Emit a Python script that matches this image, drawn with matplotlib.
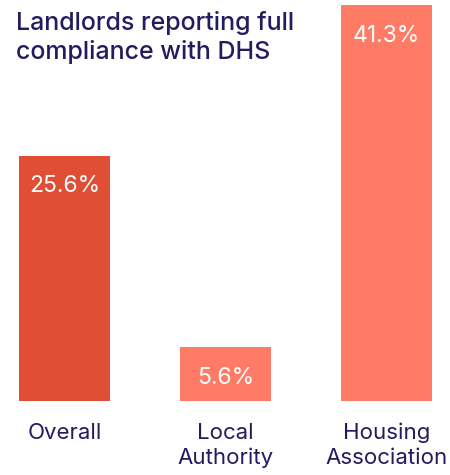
import matplotlib
matplotlib.use("Agg")
import matplotlib.pyplot as plt

categories = ["Overall", "Local\nAuthority", "Housing\nAssociation"]
values = [25.6, 5.6, 41.3]
value_labels = ["25.6%", "5.6%", "41.3%"]
colors = ["#e04e35", "#ff7b66", "#ff7b66"]
title = "Landlords reporting full\ncompliance with DHS"

plt.rcParams['font.family'] = ['Inter', 'DejaVu Sans']
fig = plt.figure(figsize=(4.5, 4.75), dpi=100)
ax = fig.add_axes([0, 0.1564, 1, 0.8436])
x = list(range(len(categories)))
bars = ax.bar(x, values, width=0.56, color=colors)
ax.set_xlim(-0.4006, 2.394)
ax.set_ylim(0, 41.87)
for b, lab in zip(bars, value_labels):
    ax.annotate(lab, (b.get_x() + b.get_width() / 2, b.get_height()),
                xytext=(0, -22), textcoords="offset points",
                ha="center", va="center", color="white", fontsize=16.5,
                fontweight="normal")
ax.set_xticks(x)
ax.set_xticklabels(categories, fontsize=16, color="#231c5e", linespacing=1.3)
ax.tick_params(axis="x", length=0, pad=16)
ax.set_yticks([])
for s in ax.spines.values():
    s.set_visible(False)
fig.text(16 / 450, 1 - 11 / 475, title, fontsize=18, color="#231c5e",
         ha="left", va="top", linespacing=1.25, fontweight="medium")
fig.savefig("out.png", dpi=100)
